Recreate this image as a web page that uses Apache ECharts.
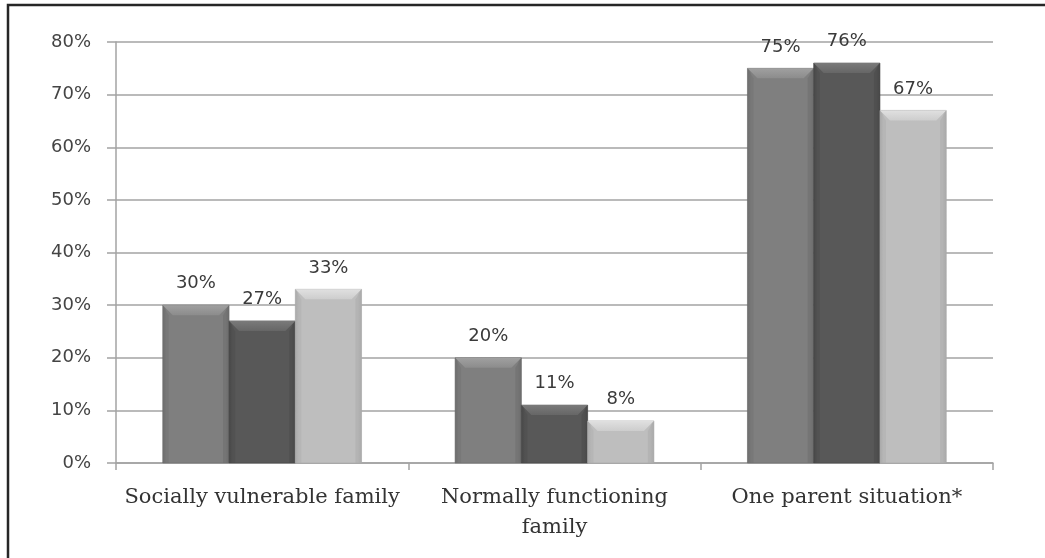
<!DOCTYPE html>
<html>
<head>
<meta charset="utf-8">
<script src="https://cdn.jsdelivr.net/npm/echarts@6/dist/echarts.min.js"></script>
<style>
  html, body { margin: 0; padding: 0; background: #fff; }
  #chart { width: 1045px; height: 558px; }
</style>
</head>
<body>
<div id="chart"></div>
<script>
// Categories and percentages for the three groups
const categories = ['Socially vulnerable family', 'Normally functioning\nfamily', 'One parent situation*'];
const seriesA = [30, 20, 75];
const seriesB = [27, 11, 76];
const seriesC = [33, 8, 67];
const yTicks = [0, 10, 20, 30, 40, 50, 60, 70, 80];

// Body / bevel shades for each series
const palette = [
  { body: '#7f7f7f', edge: '#6c6c6c', bevelTop: '#a0a0a0', bevelBottom: '#8c8c8c' },
  { body: '#585858', edge: '#474747', bevelTop: '#7a7a7a', bevelBottom: '#666666' },
  { body: '#bebebe', edge: '#a9a9a9', bevelTop: '#e0e0e0', bevelBottom: '#cdcdcd' }
];

const GROUP_FRACTION = 0.68; // share of the category band filled by the bar group
const N_SERIES = 3;

function makeRenderer(sIdx) {
  return function (params, api) {
    const cat = api.value(0);
    const val = api.value(1);
    const base = api.coord([cat, 0]);
    const top = api.coord([cat, val]);
    const band = api.size([1, 0])[0];
    const w = band * GROUP_FRACTION / N_SERIES;
    const x0 = base[0] - band * GROUP_FRACTION / 2 + sIdx * w;
    const y0 = top[1];
    const h = base[1] - top[1];
    const bev = Math.min(10, h / 2);
    const c = palette[sIdx];
    return {
      type: 'group',
      children: [
        {
          type: 'rect',
          shape: { x: x0, y: y0, width: w, height: h },
          style: {
            fill: new echarts.graphic.LinearGradient(0, 0, 1, 0, [
              { offset: 0, color: c.edge },
              { offset: 0.06, color: c.body },
              { offset: 0.94, color: c.body },
              { offset: 1, color: c.edge }
            ]),
            stroke: c.edge,
            lineWidth: 0.6
          },
          textContent: {
            style: {
              text: val + '%',
              fill: '#3a3a3a',
              fontFamily: 'DejaVu Sans',
              fontSize: 18
            }
          },
          textConfig: { position: 'top', distance: 12 }
        },
        {
          type: 'polygon',
          shape: {
            points: [[x0, y0], [x0 + w, y0], [x0 + w - bev, y0 + bev], [x0 + bev, y0 + bev]]
          },
          style: {
            fill: new echarts.graphic.LinearGradient(0, 0, 0, 1, [
              { offset: 0, color: c.bevelTop },
              { offset: 1, color: c.bevelBottom }
            ])
          }
        },
        {
          type: 'polygon',
          shape: {
            points: [[x0, y0], [x0 + bev * 0.6, y0 + bev], [x0 + bev * 0.6, base[1]], [x0, base[1]]]
          },
          style: { fill: c.edge, opacity: 0.35 }
        },
        {
          type: 'polygon',
          shape: {
            points: [[x0 + w, y0], [x0 + w - bev * 0.6, y0 + bev], [x0 + w - bev * 0.6, base[1]], [x0 + w, base[1]]]
          },
          style: { fill: c.edge, opacity: 0.5 }
        }
      ]
    };
  };
}

const chart = echarts.init(document.getElementById('chart'), null, { renderer: 'canvas' });

const gridColor = '#a3a3a3';

chart.setOption({
  backgroundColor: '#ffffff',
  animation: false,
  graphic: [
    {
      type: 'rect',
      shape: { x: 8, y: 5, width: 1100, height: 700 },
      style: { fill: 'none', stroke: '#262626', lineWidth: 2.5 },
      silent: true,
      z: 100
    }
  ],
  grid: { left: 116, right: 52, top: 42, bottom: 95 },
  xAxis: {
    type: 'category',
    data: categories,
    axisLine: { show: true, lineStyle: { color: gridColor, width: 1.5 } },
    axisTick: { show: true, alignWithLabel: false, length: 7, lineStyle: { color: gridColor, width: 1.5 } },
    axisLabel: {
      color: '#333333',
      fontFamily: 'DejaVu Serif',
      fontSize: 21,
      lineHeight: 30,
      margin: 20,
      interval: 0
    }
  },
  yAxis: {
    type: 'value',
    min: yTicks[0],
    max: yTicks[yTicks.length - 1],
    interval: 10,
    axisLine: { show: true, lineStyle: { color: gridColor, width: 1.5 } },
    axisTick: { show: true, length: 9, lineStyle: { color: gridColor, width: 1.5 } },
    splitLine: { show: true, lineStyle: { color: gridColor, width: 1.5 } },
    axisLabel: {
      formatter: '{value}%',
      color: '#444444',
      fontFamily: 'DejaVu Sans',
      fontSize: 18,
      margin: 25
    }
  },
  series: [seriesA, seriesB, seriesC].map((vals, s) => ({
    type: 'custom',
    renderItem: makeRenderer(s),
    encode: { x: 0, y: 1 },
    data: vals.map((v, i) => [i, v]),
    z: 3
  }))
});
</script>
</body>
</html>
